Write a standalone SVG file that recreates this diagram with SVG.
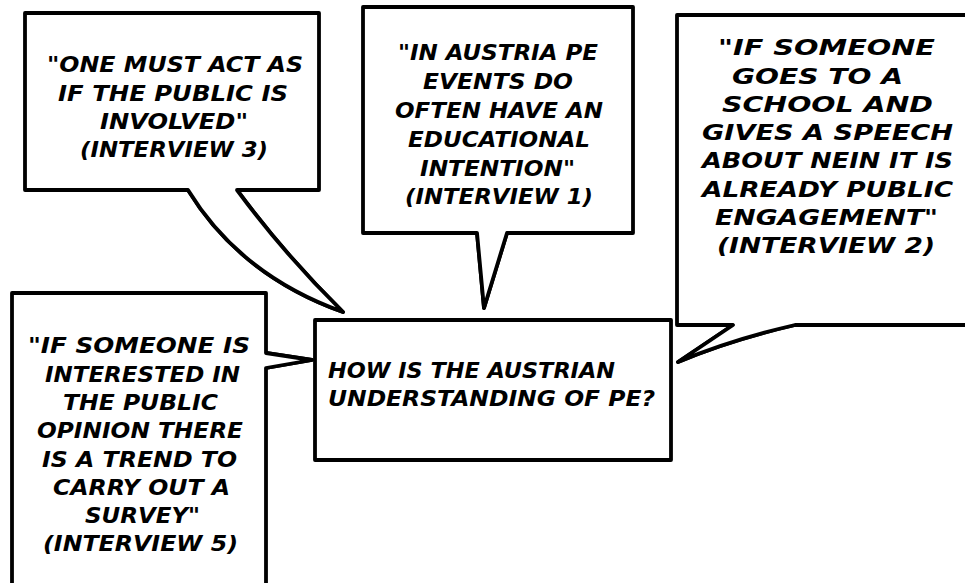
<svg xmlns="http://www.w3.org/2000/svg" width="965" height="583" viewBox="0 0 965 583">
  <style>
    .bubble { fill: #ffffff; stroke: #000000; stroke-width: 3.8; stroke-linejoin: round; }
    .t { font-family: "DejaVu Sans", "Liberation Sans", sans-serif; font-weight: bold; font-style: italic; font-size: 21px; fill: #000000; }
  </style>
  <rect width="965" height="583" fill="#ffffff"/>

  <!-- speech-bubble tails pointing at the central question -->
  <g id="connectors">
    <path class="bubble" d="M188,190 Q240,275 343,312 Q285,255 237,190 Z"/>
    <path class="bubble" d="M477,233 L484,308 L507,233 Z"/>
    <path class="bubble" d="M733,325 L678,362 Q730,340 795,325 Z"/>
    <path class="bubble" d="M266,353 L312,360 L266,368 Z"/>
  </g>

  <!-- Interview 3 -->
  <g id="quote-interview-3">
    <path class="bubble" d="M25,13 H319 V190 H237 Q285,255 343,312 Q240,275 188,190 H25 Z"/>
    <text class="t" x="47" y="72" textLength="256" lengthAdjust="spacingAndGlyphs">"ONE MUST ACT AS</text>
    <text class="t" x="58" y="101" textLength="230" lengthAdjust="spacingAndGlyphs">IF THE PUBLIC IS</text>
    <text class="t" x="100" y="129" textLength="148" lengthAdjust="spacingAndGlyphs">INVOLVED"</text>
    <text class="t" x="80" y="157" textLength="188" lengthAdjust="spacingAndGlyphs">(INTERVIEW 3)</text>
  </g>

  <!-- Interview 1 -->
  <g id="quote-interview-1">
    <path class="bubble" d="M363,7 H633 V233 H507 L484,308 L477,233 H363 Z"/>
    <text class="t" x="398" y="60" textLength="200" lengthAdjust="spacingAndGlyphs">"IN AUSTRIA PE</text>
    <text class="t" x="423" y="89" textLength="150" lengthAdjust="spacingAndGlyphs">EVENTS DO</text>
    <text class="t" x="395" y="118" textLength="208" lengthAdjust="spacingAndGlyphs">OFTEN HAVE AN</text>
    <text class="t" x="408" y="147" textLength="182" lengthAdjust="spacingAndGlyphs">EDUCATIONAL</text>
    <text class="t" x="420" y="176" textLength="155" lengthAdjust="spacingAndGlyphs">INTENTION"</text>
    <text class="t" x="405" y="204" textLength="188" lengthAdjust="spacingAndGlyphs">(INTERVIEW 1)</text>
  </g>

  <!-- Interview 2 -->
  <g id="quote-interview-2">
    <path class="bubble" d="M677,15 H975 V325 H795 Q730,340 678,362 L733,325 H677 Z"/>
    <text class="t" x="718" y="55" textLength="217" lengthAdjust="spacingAndGlyphs">"IF SOMEONE</text>
    <text class="t" x="732" y="84" textLength="171" lengthAdjust="spacingAndGlyphs">GOES TO A</text>
    <text class="t" x="722" y="112" textLength="211" lengthAdjust="spacingAndGlyphs">SCHOOL AND</text>
    <text class="t" x="702" y="140" textLength="251" lengthAdjust="spacingAndGlyphs">GIVES A SPEECH</text>
    <text class="t" x="702" y="168" textLength="251" lengthAdjust="spacingAndGlyphs">ABOUT NEIN IT IS</text>
    <text class="t" x="702" y="197" textLength="251" lengthAdjust="spacingAndGlyphs">ALREADY PUBLIC</text>
    <text class="t" x="715" y="225" textLength="223" lengthAdjust="spacingAndGlyphs">ENGAGEMENT"</text>
    <text class="t" x="717" y="253" textLength="218" lengthAdjust="spacingAndGlyphs">(INTERVIEW 2)</text>
  </g>

  <!-- Interview 5 -->
  <g id="quote-interview-5">
    <path class="bubble" d="M12,293 H266 V353 L312,360 L266,368 V592 H12 Z"/>
    <text class="t" x="28" y="353" textLength="222" lengthAdjust="spacingAndGlyphs">"IF SOMEONE IS</text>
    <text class="t" x="45" y="382" textLength="195" lengthAdjust="spacingAndGlyphs">INTERESTED IN</text>
    <text class="t" x="63" y="410" textLength="155" lengthAdjust="spacingAndGlyphs">THE PUBLIC</text>
    <text class="t" x="37" y="438" textLength="206" lengthAdjust="spacingAndGlyphs">OPINION THERE</text>
    <text class="t" x="42" y="467" textLength="195" lengthAdjust="spacingAndGlyphs">IS A TREND TO</text>
    <text class="t" x="53" y="495" textLength="177" lengthAdjust="spacingAndGlyphs">CARRY OUT A</text>
    <text class="t" x="85" y="523" textLength="115" lengthAdjust="spacingAndGlyphs">SURVEY"</text>
    <text class="t" x="43" y="551" textLength="195" lengthAdjust="spacingAndGlyphs">(INTERVIEW 5)</text>
  </g>

  <!-- Central question -->
  <g id="question">
    <rect class="bubble" x="315" y="320" width="356" height="140"/>
    <text class="t" x="328" y="378" textLength="287" lengthAdjust="spacingAndGlyphs">HOW IS THE AUSTRIAN</text>
    <text class="t" x="328" y="406" textLength="327" lengthAdjust="spacingAndGlyphs">UNDERSTANDING OF PE?</text>
  </g>
</svg>
